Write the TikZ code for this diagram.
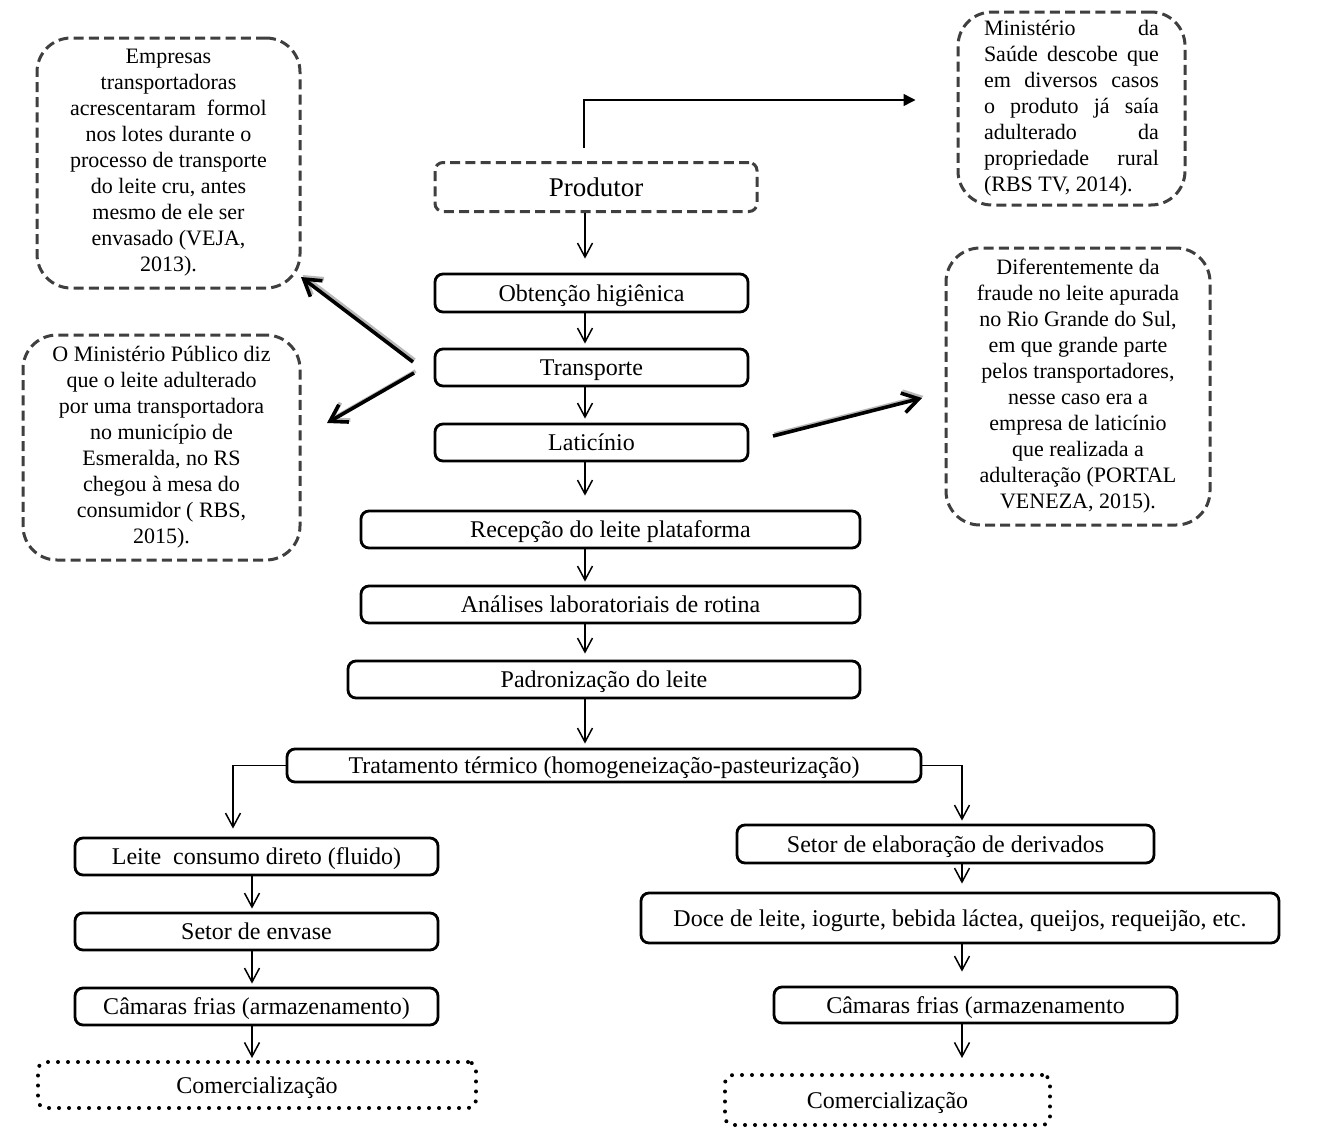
\documentclass[tikz,border=0pt]{standalone}
\usepackage{fontspec}
\setmainfont{Liberation Serif}
\usetikzlibrary{arrows.meta}
\definecolor{dgray}{HTML}{3F3F3F}
\begin{document}
\begin{tikzpicture}[x=0.5pt,y=-0.5pt,
  box/.style={draw, line width=1.4pt, rounded corners=4pt, inner sep=0pt,
    text depth=0pt, font=\fontsize{12}{14}\selectfont},
  dashbox/.style={draw=dgray, line width=1.5pt, dash pattern=on 5pt off 2.6pt,
    rounded corners=4pt, inner sep=0pt, text depth=0pt, font=\fontsize{13.5}{15}\selectfont},
  dotbox/.style={draw, line width=2pt, dash pattern=on 0pt off 5pt,
    line cap=round, rounded corners=4pt, inner sep=0pt, text depth=0pt,
    font=\fontsize{12}{14}\selectfont},
  callout/.style={draw=dgray, line width=1.5pt, dash pattern=on 5pt off 2.6pt,
    rounded corners=17pt, inner sep=0pt, align=center,
    font=\fontsize{11}{13}\selectfont},
  flow/.style={draw, line width=0.75pt, -{Straight Barb[length=7pt,width=7.5pt]}},
  bigarrow/.style={draw, line width=1.8pt, -{Straight Barb[length=8pt,width=10pt]}},
  shadowarrow/.style={bigarrow, draw=gray!55, transform canvas={shift={(0.8pt,1pt)}}}
]
\useasboundingbox (0,0) rectangle (1324,1142);

% main flow
\node[dashbox, minimum width=161pt, minimum height=24.5pt] (prod) at (596,187) {Produtor};
\node[box, minimum width=156.5pt, minimum height=19pt] (obt) at (591.5,293) {Obtenção higiênica};
\node[box, minimum width=156.5pt, minimum height=18.5pt] (trans) at (591.5,367.5) {Transporte};
\node[box, minimum width=156.5pt, minimum height=18.5pt] (lat) at (591.5,442.5) {Laticínio};
\node[box, minimum width=249.5pt, minimum height=18.5pt] (rec) at (610.5,529.5) {Recepção do leite plataforma};
\node[box, minimum width=249.5pt, minimum height=18.5pt] (ana) at (610.5,604.5) {Análises laboratoriais de rotina};
\node[box, minimum width=256pt, minimum height=18.5pt] (pad) at (604,679.5) {Padronização do leite};
\node[box, minimum width=317pt, minimum height=16.5pt] (trat) at (604,765.5) {Tratamento térmico (homogeneização-pasteurização)};

% left branch
\node[box, minimum width=181.5pt, minimum height=18.5pt] (leite) at (256.5,856.5) {Leite\ \ consumo direto (fluido)};
\node[box, minimum width=181.5pt, minimum height=18.5pt] (env) at (256.5,931.5) {Setor de envase};
\node[box, minimum width=181.5pt, minimum height=18.5pt] (cam1) at (256.5,1006.5) {Câmaras frias (armazenamento)};
\node[dotbox, minimum width=219pt, minimum height=23pt] (com1) at (257,1085) {Comercialização};

% right branch
\node[box, minimum width=208.5pt, minimum height=19pt] (setor) at (945.5,844) {Setor de elaboração de derivados};
\node[box, minimum width=319pt, minimum height=25pt] (doce) at (960,918) {Doce de leite, iogurte, bebida láctea, queijos, requeijão, etc.};
\node[box, minimum width=201.5pt, minimum height=18pt] (cam2) at (975.5,1005) {Câmaras frias (armazenamento};
\node[dotbox, minimum width=162.5pt, minimum height=25pt] (com2) at (887.5,1100) {Comercialização};

% callouts
\node[callout, minimum width=131.5pt, minimum height=125pt] (c1) at (168.5,163) {Empresas\\
transportadoras\\
acrescentaram\ \ formol\\
nos lotes durante o\\
processo de transporte\\
do leite cru, antes\\
mesmo de ele ser\\
envasado (VEJA,\\
2013).};

\node[callout, minimum width=113.5pt, minimum height=96.5pt, align=left] (c2) at (1071.5,108.5) {\makebox[87.5pt][s]{Ministério da}\\
\makebox[87.5pt][s]{Saúde descobe que}\\
\makebox[87.5pt][s]{em diversos casos}\\
\makebox[87.5pt][s]{o produto já saía}\\
\makebox[87.5pt][s]{adulterado da}\\
\makebox[87.5pt][s]{propriedade rural}\\
\makebox[87.5pt][l]{(RBS TV, 2014).}};

\node[callout, minimum width=132pt, minimum height=138.5pt] (c3) at (1078,386.5) {Diferentemente da\\
fraude no leite apurada\\
no Rio Grande do Sul,\\
em que grande parte\\
pelos transportadores,\\
nesse caso era a\\
empresa de laticínio\\
que realizada a\\
adulteração (PORTAL\\
VENEZA, 2015).};

\node[callout, minimum width=138.5pt, minimum height=112.5pt] (c4) at (161.5,447.5) {O Ministério Público diz\\
que o leite adulterado\\
por uma transportadora\\
no município de\\
Esmeralda, no RS\\
chegou à mesa do\\
consumidor ( RBS,\\
2015).};

% helper coordinates
\coordinate (xm) at (585,0);
\coordinate (xl) at (252,0);
\coordinate (xlb) at (233,0);
\coordinate (xr) at (962,0);
\coordinate (topbend) at (584,100);

% main vertical arrows
\draw[flow, shorten >=7pt] (prod.south -| xm) -- (obt.north -| xm);
\draw[flow, shorten >=2pt] (obt.south -| xm) -- (trans.north -| xm);
\draw[flow, shorten >=2pt] (trans.south -| xm) -- (lat.north -| xm);
\draw[flow, shorten >=7pt] (lat.south -| xm) -- (rec.north -| xm);
\draw[flow, shorten >=1.5pt] (rec.south -| xm) -- (ana.north -| xm);
\draw[flow, shorten >=3pt] (ana.south -| xm) -- (pad.north -| xm);
\draw[flow, shorten >=2pt] (pad.south -| xm) -- (trat.north -| xm);

% branches
\draw[flow, shorten >=4pt] (trat.west) -| (leite.north -| xlb);
\draw[flow, shorten >=1.5pt] (trat.east) -| (setor.north -| xr);

\draw[flow, shorten >=1.5pt] (leite.south -| xl) -- (env.north -| xl);
\draw[flow, shorten >=1.5pt] (env.south -| xl) -- (cam1.north -| xl);
\draw[flow, shorten >=1pt] (cam1.south -| xl) -- (com1.north -| xl);

\draw[flow, shorten >=4pt] (setor.south -| xr) -- (doce.north -| xr);
\draw[flow, shorten >=7pt] (doce.south -| xr) -- (cam2.north -| xr);
\draw[flow, shorten >=7.5pt] (cam2.south -| xr) -- (com2.north -| xr);

% top arrow to Ministerio callout
\draw[line width=0.75pt, -{Triangle[length=6pt,width=6pt]}, shorten <=6.5pt, shorten >=20.5pt]
  (prod.north -| topbend) -- (topbend) -- (c2.west |- topbend);

% thick arrows with shadow
\coordinate (a1s) at (413,362);
\coordinate (a1e) at (301,277);
\coordinate (a2s) at (414,373);
\coordinate (a2e) at (327,423);
\coordinate (a3s) at (773,436);
\coordinate (a3e) at (922,398);
\foreach \s/\e in {a1s/a1e, a2s/a2e, a3s/a3e}{
  \draw[shadowarrow] (\s) -- (\e);
  \draw[bigarrow] (\s) -- (\e);
}
\end{tikzpicture}
\end{document}
